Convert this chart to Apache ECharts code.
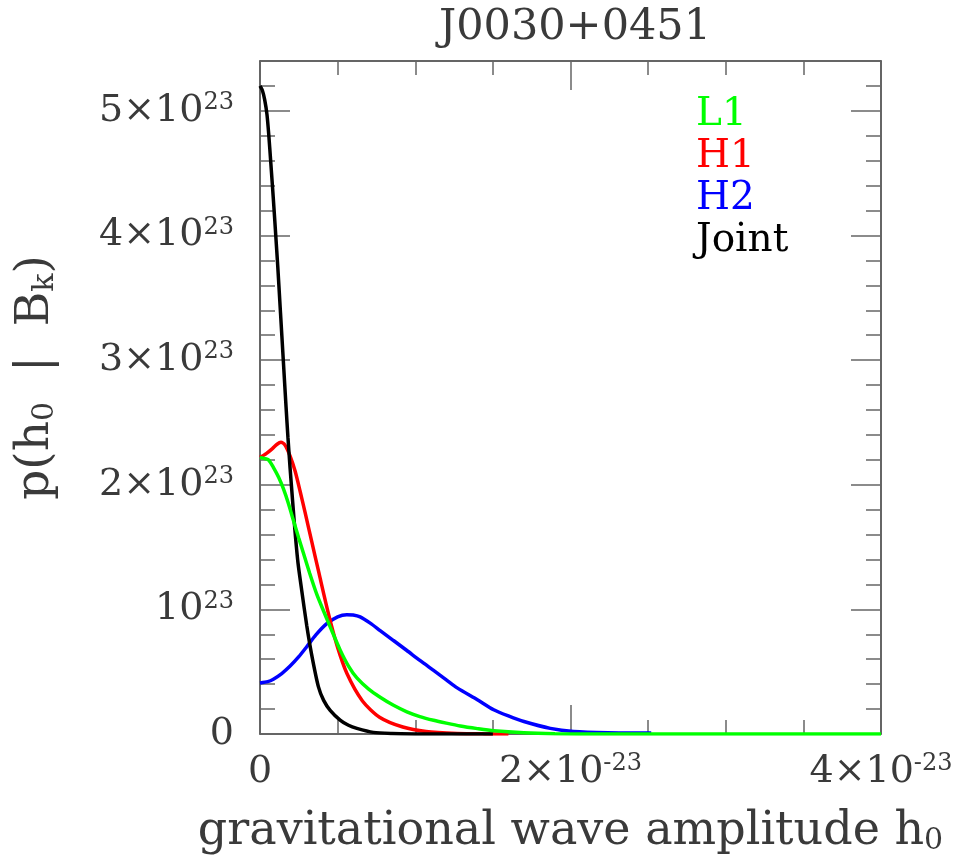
<!DOCTYPE html>
<html>
<head>
<meta charset="utf-8">
<script src="https://cdn.jsdelivr.net/npm/echarts@6/dist/echarts.min.js"></script>
<style>
  html, body { margin: 0; padding: 0; background: #ffffff; }
  #chart { width: 979px; height: 856px; }
</style>
</head>
<body>
<div id="chart"></div>
<script>
// Posterior density of the gravitational wave amplitude h0 for PSR J0030+0451,
// for each detector and for the joint analysis.
// h0 is given in units of 1e-23, the density in units of 1e23.

const l1Curve = [
  [0, 2.22], [0.03, 2.21], [0.054, 2.20], [0.086, 2.14], [0.12, 2.06], [0.15, 1.97],
  [0.183, 1.85], [0.215, 1.715], [0.25, 1.57], [0.28, 1.45], [0.32, 1.29], [0.366, 1.12],
  [0.41, 0.985], [0.452, 0.86], [0.516, 0.675], [0.57, 0.545], [0.624, 0.45], [0.7, 0.36],
  [0.774, 0.295], [0.86, 0.23], [0.946, 0.178], [1.03, 0.14], [1.118, 0.11], [1.2, 0.087],
  [1.29, 0.064], [1.4, 0.043], [1.505, 0.026], [1.7, 0.01], [1.9, 0.003], [2.2, 0], [4, 0]
];

const h1Curve = [
  [0, 2.22], [0.04, 2.25], [0.08, 2.29], [0.11, 2.325], [0.135, 2.34], [0.16, 2.32],
  [0.194, 2.23], [0.226, 2.11], [0.258, 1.95], [0.29, 1.78], [0.333, 1.545], [0.38, 1.29],
  [0.44, 0.97], [0.495, 0.715], [0.56, 0.485], [0.66, 0.265], [0.77, 0.135], [0.92, 0.056],
  [1.07, 0.02], [1.27, 0.005], [1.45, 0.001], [1.6, 0]
];

const h2Curve = [
  [0, 0.41], [0.05, 0.42], [0.086, 0.44], [0.14, 0.485], [0.194, 0.545], [0.25, 0.62],
  [0.301, 0.70], [0.36, 0.795], [0.43, 0.885], [0.5, 0.94], [0.559, 0.957], [0.6, 0.955],
  [0.645, 0.94], [0.71, 0.89], [0.774, 0.83], [0.86, 0.75], [0.946, 0.67], [1.03, 0.59],
  [1.118, 0.51], [1.2, 0.435], [1.27, 0.37], [1.4, 0.275], [1.505, 0.195], [1.6, 0.145],
  [1.7, 0.10], [1.87, 0.045], [2.02, 0.02], [2.24, 0.01], [2.52, 0.008]
];

const jointCurve = [
  [0, 5.20], [0.015, 5.165], [0.03, 5.09], [0.045, 4.97], [0.057, 4.80], [0.068, 4.61],
  [0.08, 4.40], [0.091, 4.20], [0.102, 3.99], [0.114, 3.76], [0.132, 3.38], [0.15, 3.00],
  [0.168, 2.62], [0.18, 2.38], [0.194, 2.13], [0.205, 1.95], [0.215, 1.79], [0.228, 1.59],
  [0.245, 1.37], [0.269, 1.15], [0.301, 0.87], [0.333, 0.635], [0.376, 0.38], [0.41, 0.27],
  [0.452, 0.19], [0.516, 0.112], [0.57, 0.07], [0.624, 0.045], [0.73, 0.013], [0.85, 0.004],
  [1.0, 0.001], [1.2, 0], [1.5, 0]
];

const seriesNames = ['L1', 'H1', 'H2', 'Joint'];
const seriesColors = ['#00ff00', '#ff0000', '#0000ff', '#000000'];
const seriesCurves = [l1Curve, h1Curve, h2Curve, jointCurve];
// drawing order, bottom to top
const drawOrder = [2, 1, 3, 0];

// tick labels: mantissa text and power of ten
const yTickMantissa = ['0', '10', '2×10', '3×10', '4×10', '5×10'];
const yTickExponent = ['', '23', '23', '23', '23', '23'];
const xTickMantissa = ['0', '2×10', '4×10'];
const xTickExponent = ['', '-23', '-23'];

const titleText = 'J0030+0451';

const FONT = 'DejaVu Serif';
const TEXT = '#3a3a3a';
const FRAME = '#333333';
const TICK = '#666666';

const X_MIN = 0, X_MAX = 4;
const Y_MIN = 0, Y_MAX = 5.4;

function tickLabel(mantissa, exponent) {
  if (!exponent) return '{m|' + mantissa + '}';
  return '{m|' + mantissa + '}{s|' + exponent + '}';
}

const labelRich = {
  m: { fontFamily: FONT, fontSize: 38, color: TEXT, lineHeight: 40 },
  s: { fontFamily: FONT, fontSize: 24, color: TEXT, verticalAlign: 'top', lineHeight: 40 }
};

function yLabel(v) {
  const i = Math.round(v);
  if (Math.abs(v - i) > 1e-6 || i >= yTickMantissa.length) return '';
  return tickLabel(yTickMantissa[i], yTickExponent[i]);
}
function xLabel(v) {
  const i = Math.round(v / 2);
  if (Math.abs(v - i * 2) > 1e-6 || i >= xTickMantissa.length) return '';
  return tickLabel(xTickMantissa[i], xTickExponent[i]);
}

function frameAxis(kind, position, interval, tickLen, showLine, extra) {
  const isX = kind === 'x';
  return Object.assign({
    type: 'value',
    position: position,
    min: isX ? X_MIN : Y_MIN,
    max: isX ? X_MAX : Y_MAX,
    interval: interval,
    gridIndex: 0,
    splitLine: { show: false },
    axisLine: { show: showLine, onZero: false, lineStyle: { color: FRAME, width: 1.5 } },
    axisTick: { show: true, inside: true, length: tickLen, lineStyle: { color: TICK, width: 1.5 } },
    axisLabel: { show: false },
    silent: true
  }, extra || {});
}

const nameRich = {
  sub: { fontFamily: FONT, fontSize: 30, color: TEXT, verticalAlign: 'bottom', padding: [18, 0, 0, 0] }
};

const chart = echarts.init(document.getElementById('chart'), null, { renderer: 'canvas' });

const option = {
  backgroundColor: '#ffffff',
  animation: false,
  title: {
    text: titleText,
    left: 570,
    top: 1,
    textAlign: 'center',
    textStyle: { fontFamily: FONT, fontSize: 43, fontWeight: 'normal', color: TEXT }
  },
  legend: {
    orient: 'vertical',
    left: 686,
    top: 90,
    icon: 'none',
    itemWidth: 0,
    itemHeight: 14,
    itemGap: 3,
    selectedMode: false,
    textStyle: { fontFamily: FONT, fontSize: 39, lineHeight: 38 },
    data: seriesNames.map((n, i) => ({ name: n, textStyle: { color: seriesColors[i] } }))
  },
  grid: {
    left: 260,
    right: 98,
    top: 61,
    bottom: 122,
    containLabel: false,
    outerBoundsMode: 'none'
  },
  xAxis: [
    frameAxis('x', 'bottom', 2, 29, true, {
      axisLabel: {
        show: true, margin: 18, formatter: xLabel, rich: labelRich,
        showMinLabel: true, showMaxLabel: true
      },
      name: 'gravitational wave amplitude h{sub|0}',
      nameLocation: 'middle',
      nameGap: 74,
      nameTextStyle: { fontFamily: FONT, fontSize: 46, color: TEXT, rich: nameRich }
    }),
    frameAxis('x', 'bottom', 0.5, 14, false),
    frameAxis('x', 'top', 2, 29, true),
    frameAxis('x', 'top', 0.5, 14, false)
  ],
  yAxis: [
    frameAxis('y', 'left', 1, 30, true, {
      axisLabel: {
        show: true, margin: 26, formatter: yLabel, rich: labelRich,
        showMinLabel: true, showMaxLabel: false
      },
      name: 'p(h{sub|0}  |  B{sub|k})',
      nameLocation: 'middle',
      nameRotate: 90,
      nameGap: 200,
      nameTextStyle: {
        fontFamily: FONT, fontSize: 47, color: TEXT, rich: nameRich,
        padding: [0, 0, 0, 40]
      }
    }),
    frameAxis('y', 'left', 0.2, 15, false),
    frameAxis('y', 'right', 1, 30, true),
    frameAxis('y', 'right', 0.2, 15, false)
  ],
  series: drawOrder.map(i => ({
    name: seriesNames[i],
    type: 'line',
    xAxisIndex: 0,
    yAxisIndex: 0,
    data: seriesCurves[i],
    showSymbol: false,
    symbol: 'none',
    smooth: 0.25,
    lineStyle: { color: seriesColors[i], width: 3.5 },
    itemStyle: { color: seriesColors[i] },
    silent: true
  }))
};

chart.setOption(option);
</script>
</body>
</html>
